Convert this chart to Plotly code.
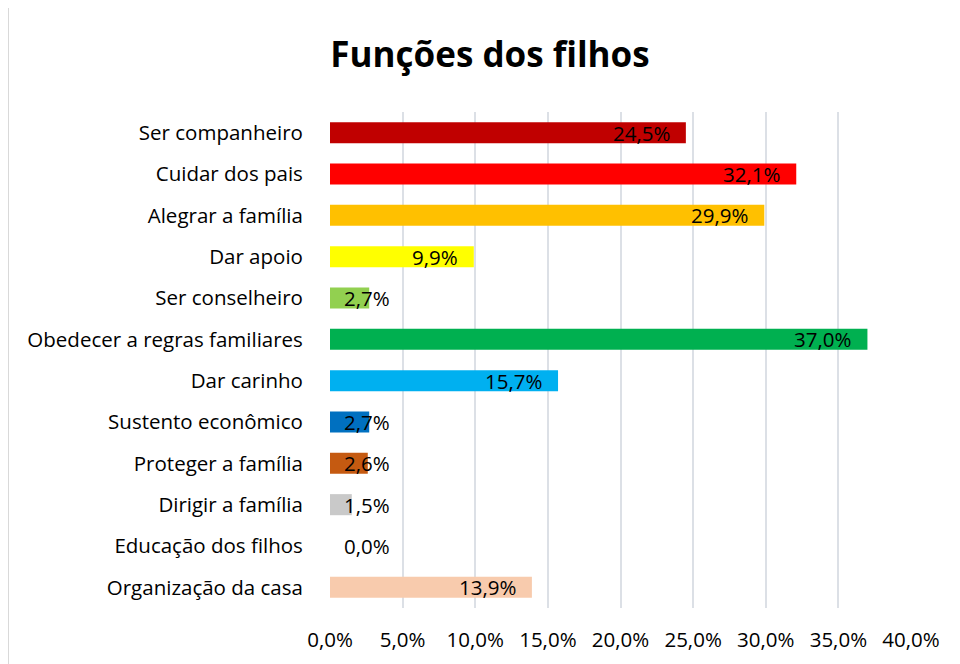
import plotly.graph_objects as go

categories = ["Ser companheiro", "Cuidar dos pais", "Alegrar a família", "Dar apoio",
              "Ser conselheiro", "Obedecer a regras familiares", "Dar carinho",
              "Sustento econômico", "Proteger a família", "Dirigir a família",
              "Educação dos filhos", "Organização da casa"]
values = [24.5, 32.1, 29.9, 9.9, 2.7, 37.0, 15.7, 2.7, 2.6, 1.5, 0.0, 13.9]
colors = ["#C00000", "#FF0000", "#FFC000", "#FFFF00", "#92D050", "#00B050",
          "#00B0F0", "#0070C0", "#C55A11", "#C9C9C9", "#FFFFFF", "#F8CBAD"]
tick_vals = [0, 5, 10, 15, 20, 25, 30, 35, 40]
tick_text = ["0,0%", "5,0%", "10,0%", "15,0%", "20,0%", "25,0%", "30,0%", "35,0%", "40,0%"]

FONT = "'Open Sans', Lato, sans-serif"
FS = 20.5

# page body has an 8px margin; figure is sized to fill the rest of the window
OFF = 8
W, H = 960 - OFF, 664 - OFF

fig = go.Figure()
fig.add_trace(go.Bar(
    x=values, y=categories, orientation="h",
    marker=dict(color=colors, line=dict(width=0)),
    hoverinfo="skip",
))

for c, v in zip(categories, values):
    label = f"{v:.1f}%".replace(".", ",")
    if v >= 5:
        fig.add_annotation(x=v, y=c, text=label, showarrow=False, xanchor="right",
                           xshift=-14, font=dict(family=FONT, size=FS, color="black"))
    else:
        fig.add_annotation(x=0, y=c, text=label, showarrow=False, xanchor="left",
                           xshift=12, font=dict(family=FONT, size=FS, color="black"))

fig.add_shape(type="rect", xref="paper", yref="paper",
              x0=-0.5542, x1=1.081, y0=-0.14, y1=1.2119,
              line=dict(color="#D9D9D9", width=2), fillcolor="rgba(0,0,0,0)", layer="below")

fig.update_layout(
    width=W, height=H,
    margin=dict(l=330 - OFF, r=49, t=112 - OFF, b=56, autoexpand=False),
    paper_bgcolor="white", plot_bgcolor="white",
    bargap=0.49,
    showlegend=False,
    title=dict(text="<b>Funções dos filhos</b>", x=(490 - OFF) / W, xanchor="center",
               y=1 - (55 - OFF) / H, yanchor="middle",
               font=dict(family=FONT, size=35, color="black")),
    xaxis=dict(range=[0, 40], tickvals=tick_vals, ticktext=tick_text,
               showgrid=True, gridcolor="#DCE0E6", gridwidth=2,
               zeroline=False, showline=False,
               ticks="outside", ticklen=13, tickcolor="rgba(0,0,0,0)",
               tickfont=dict(family=FONT, size=FS, color="black"), fixedrange=True),
    yaxis=dict(autorange="reversed", showgrid=False, zeroline=False, showline=False,
               ticks="outside", ticklen=22, tickcolor="rgba(0,0,0,0)",
               tickfont=dict(family=FONT, size=FS, color="black"), fixedrange=True),
)

fig.write_html("out.html")
